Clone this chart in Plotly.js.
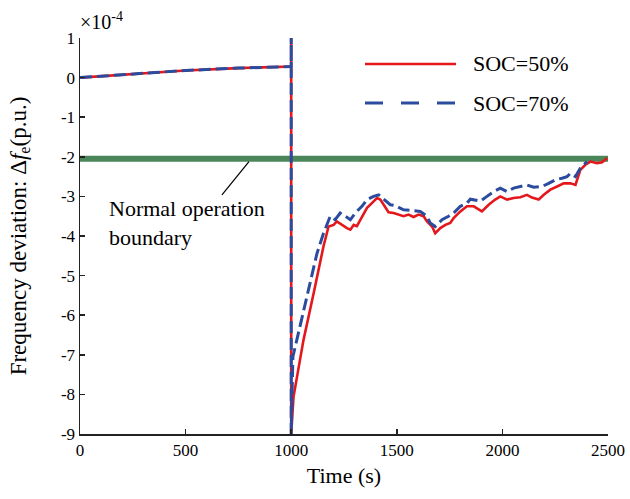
<!DOCTYPE html>
<html>
<head>
<meta charset="utf-8">
<script src="https://cdn.plot.ly/plotly-3.0.1.min.js"></script>
<style>html,body{margin:0;padding:0;background:#fff;}#chart{width:630px;height:499px;}</style>
</head>
<body>
<div id="chart"></div>
<script>
// Time (s) and frequency deviation (x1e-4 p.u.)
const timeSoc50 = [0,250,500,750,1000,1000,1000,1011,1058,1106,1153,1177,1201,1216,1240,1264,1280,1296,1311,1335,1359,1382,1406,1422,1445,1461,1485,1508,1532,1556,1579,1603,1627,1643,1667,1682,1706,1730,1753,1769,1801,1832,1864,1903,1935,1966,1990,2022,2053,2085,2116,2140,2172,2196,2227,2259,2290,2322,2346,2369,2393,2417,2448,2472,2496];
const devSoc50 = [0,0.09,0.18,0.24,0.28,1.05,-9,-8.06,-6.63,-5.45,-4.26,-3.76,-3.72,-3.63,-3.72,-3.80,-3.84,-3.72,-3.75,-3.50,-3.29,-3.17,-3.04,-3.08,-3.25,-3.40,-3.42,-3.46,-3.50,-3.46,-3.52,-3.46,-3.50,-3.63,-3.76,-3.93,-3.80,-3.72,-3.67,-3.55,-3.38,-3.25,-3.25,-3.38,-3.21,-3.08,-3.00,-3.08,-3.04,-3.02,-2.96,-3.03,-3.08,-2.96,-2.83,-2.75,-2.67,-2.67,-2.71,-2.33,-2.20,-2.12,-2.16,-2.14,-2.03];
const timeSoc70 = [0,250,500,750,1000,1000,1000,1008,1026,1074,1122,1153,1185,1208,1232,1256,1280,1303,1335,1359,1390,1414,1438,1469,1492,1532,1564,1611,1643,1658,1682,1714,1745,1769,1801,1832,1848,1896,1927,1959,1990,2022,2053,2085,2116,2148,2188,2219,2251,2282,2306,2322,2346,2369,2393,2401];
const devSoc70 = [0,0.09,0.18,0.24,0.28,1.05,-9,-7.05,-6.63,-5.53,-4.44,-3.93,-3.50,-3.59,-3.42,-3.50,-3.59,-3.42,-3.25,-3.08,-3.00,-2.96,-3.08,-3.21,-3.23,-3.34,-3.35,-3.38,-3.50,-3.67,-3.76,-3.59,-3.50,-3.42,-3.25,-3.17,-3.07,-3.12,-3.00,-2.88,-2.79,-2.88,-2.79,-2.75,-2.71,-2.77,-2.75,-2.67,-2.58,-2.54,-2.50,-2.42,-2.50,-2.29,-2.16,-2.12];
const boundaryTime = [0,2500];
const boundaryDev = [-2.05,-2.05];
const seriesNames = ['SOC=50%','SOC=70%'];
const xTickVals = [0,500,1000,1500,2000,2500];
const yTickVals = [1,0,-1,-2,-3,-4,-5,-6,-7,-8,-9];
const yTickText = ['1','0','-1','-2','-3','-4','-5','-6','-7','-8','-9'];

const FONT = 'Liberation Serif, Times New Roman, serif';
const RED = '#e3171c', BLUE = '#2b4c9e', GREEN = '#4a865a';

const traces = [
  {x: boundaryTime, y: boundaryDev, mode:'lines', line:{color:GREEN,width:6}, showlegend:false, hoverinfo:'skip'},
  {x: timeSoc50, y: devSoc50, name: seriesNames[0], mode:'lines', line:{color:RED,width:2.6}, showlegend:false},
  {x: timeSoc70, y: devSoc70, name: seriesNames[1], mode:'lines', line:{color:BLUE,width:3,dash:'12px,5px'}, showlegend:false}
];

function px2paperX(p){return (p-80)/528;}
function px2paperY(p){return (434-p)/396;}

const layout = {
  width:630, height:499,
  margin:{l:80,r:22,t:38,b:65},
  paper_bgcolor:'#fff', plot_bgcolor:'#fff',
  font:{family:FONT,color:'#000',size:17},
  showlegend:false,
  xaxis:{range:[0,2500], tickvals:xTickVals, showgrid:false, zeroline:false,
    showline:true, linecolor:'#222', linewidth:1.5, ticks:'inside', ticklen:5, tickwidth:1.5, tickcolor:'#222',
    tickfont:{family:FONT,size:17,color:'#000'},
    title:{text:'Time (s)', font:{family:FONT,size:22,color:'#000'}, standoff:8}},
  yaxis:{range:[-9,1], tickvals:yTickVals, ticktext:yTickText, showgrid:false, zeroline:false,
    showline:true, linecolor:'#222', linewidth:1.5, ticks:'inside', ticklen:5, tickwidth:1.5, tickcolor:'#222',
    tickfont:{family:FONT,size:17,color:'#000'},
    title:{text:'Frequency deviation: Δ<i>f</i><sub>e</sub>(p.u.)', font:{family:FONT,size:23,color:'#000'}, standoff:28}},
  shapes:[
    {type:'line', xref:'paper', yref:'paper', x0:px2paperX(365), x1:px2paperX(456), y0:px2paperY(64), y1:px2paperY(64), line:{color:RED,width:2.6}},
    {type:'line', xref:'paper', yref:'paper', x0:px2paperX(365), x1:px2paperX(456), y0:px2paperY(103), y1:px2paperY(103), line:{color:BLUE,width:3,dash:'18px,18px'}},
    {type:'line', xref:'x', yref:'y', x0:800, y0:-2.12, x1:672, y1:-2.96, line:{color:'#000',width:1.2}}
  ],
  annotations:[
    {xref:'paper', yref:'paper', x:px2paperX(471), y:px2paperY(64), xanchor:'left', yanchor:'middle', text:seriesNames[0], showarrow:false, font:{family:FONT,size:22,color:'#000'}},
    {xref:'paper', yref:'paper', x:px2paperX(471), y:px2paperY(103), xanchor:'left', yanchor:'middle', text:seriesNames[1], showarrow:false, font:{family:FONT,size:22,color:'#000'}},
    {xref:'x', yref:'y', x:128, y:-3.66, xanchor:'left', yanchor:'middle', align:'left', text:'Normal operation<br>boundary', showarrow:false, font:{family:FONT,size:22,color:'#000'}},
    {xref:'paper', yref:'paper', x:px2paperX(78), y:px2paperY(21), xanchor:'left', yanchor:'middle', text:'×10<sup>-4</sup>', showarrow:false, font:{family:FONT,size:20,color:'#000'}}
  ]
};

Plotly.newPlot('chart', traces, layout, {displayModeBar:false, staticPlot:true});
</script>
</body>
</html>
